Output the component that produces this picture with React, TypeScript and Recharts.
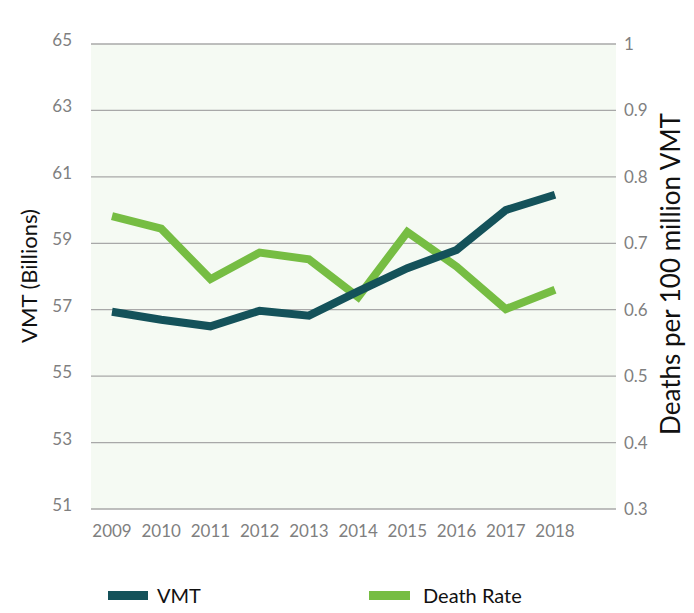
import React from 'react'
import {
  LineChart,
  Line,
  XAxis,
  YAxis,
  CartesianGrid,
  Label,
} from 'recharts'

const years = ['2009', '2010', '2011', '2012', '2013', '2014', '2015', '2016', '2017', '2018']
const vmt = [56.94, 56.7, 56.5, 56.97, 56.82, 57.55, 58.25, 58.8, 60.0, 60.46]
const deathRate = [0.741, 0.722, 0.646, 0.686, 0.676, 0.619, 0.717, 0.665, 0.601, 0.63]

const leftTicks = [51, 53, 55, 57, 59, 61, 63, 65]
const rightTicks = [0.3, 0.4, 0.5, 0.6, 0.7, 0.8, 0.9, 1]

const data = years.map((year, i) => ({ year, vmt: vmt[i], deathRate: deathRate[i] }))

const FONT = 'Lato, sans-serif'
const DARK = '#14525A'
const GREEN = '#76BD43'
const TICK = '#7f7f7f'

function SideTitle({ x, y, text, size }: { x: number; y: number; text: string; size: number }) {
  return (
    <text
      x={x}
      y={y}
      transform={`rotate(-90 ${x} ${y})`}
      textAnchor="middle"
      dominantBaseline="central"
      fontFamily={FONT}
      fontSize={size}
      fill="#111"
    >
      {text}
    </text>
  )
}

export default function App() {
  return (
    <div style={{ position: 'relative', width: 694, height: 613, margin: -8, fontFamily: FONT }}>
      <LineChart
        width={694}
        height={613}
        data={data}
        margin={{ top: 44, right: 0, left: 0, bottom: 74 }}
      >
        <CartesianGrid
          yAxisId="left"
          vertical={false}
          fill="#F5FAF3"
          stroke="#a8a8a8"
          strokeWidth={1.3}
        />
        <XAxis
          dataKey="year"
          height={30}
          axisLine={false}
          tickLine={false}
          tickSize={0}
          tickMargin={16}
          padding={{ left: 21, right: 61 }}
          tick={{ fill: TICK, fontSize: 17, fontFamily: FONT }}
        />
        <YAxis
          yAxisId="left"
          width={91}
          domain={[51, 65]}
          ticks={leftTicks}
          axisLine={false}
          tickLine={false}
          tickSize={0}
          tickMargin={19}
          tick={{ fill: TICK, fontSize: 17, fontFamily: FONT, dy: -4 }}
        >
          <Label content={() => <SideTitle x={28} y={276} size={22} text="VMT (Billions)" />} />
        </YAxis>
        <YAxis
          yAxisId="right"
          orientation="right"
          width={78}
          domain={[0.3, 1]}
          ticks={rightTicks}
          axisLine={false}
          tickLine={false}
          tickSize={0}
          tickMargin={8}
          tick={{ fill: TICK, fontSize: 17, fontFamily: FONT }}
        >
          <Label content={() => <SideTitle x={670} y={274} size={26} text="Deaths per 100 million VMT" />} />
        </YAxis>
        <Line
          yAxisId="right"
          dataKey="deathRate"
          stroke={GREEN}
          strokeWidth={8}
          dot={false}
          activeDot={false}
          isAnimationActive={false}
        />
        <Line
          yAxisId="left"
          dataKey="vmt"
          stroke={DARK}
          strokeWidth={8}
          dot={false}
          activeDot={false}
          isAnimationActive={false}
        />
      </LineChart>
      {/* legend drawn below the plot */}
      <div style={{ position: 'absolute', top: 583, left: 108, display: 'flex', alignItems: 'center', fontSize: 20, color: '#111' }}>
        <span style={{ display: 'inline-block', width: 40, height: 9, background: DARK, marginRight: 9 }} />
        <span>VMT</span>
      </div>
      <div style={{ position: 'absolute', top: 583, left: 369, display: 'flex', alignItems: 'center', fontSize: 20, color: '#111' }}>
        <span style={{ display: 'inline-block', width: 41, height: 9, background: GREEN, marginRight: 13 }} />
        <span>Death Rate</span>
      </div>
    </div>
  )
}
